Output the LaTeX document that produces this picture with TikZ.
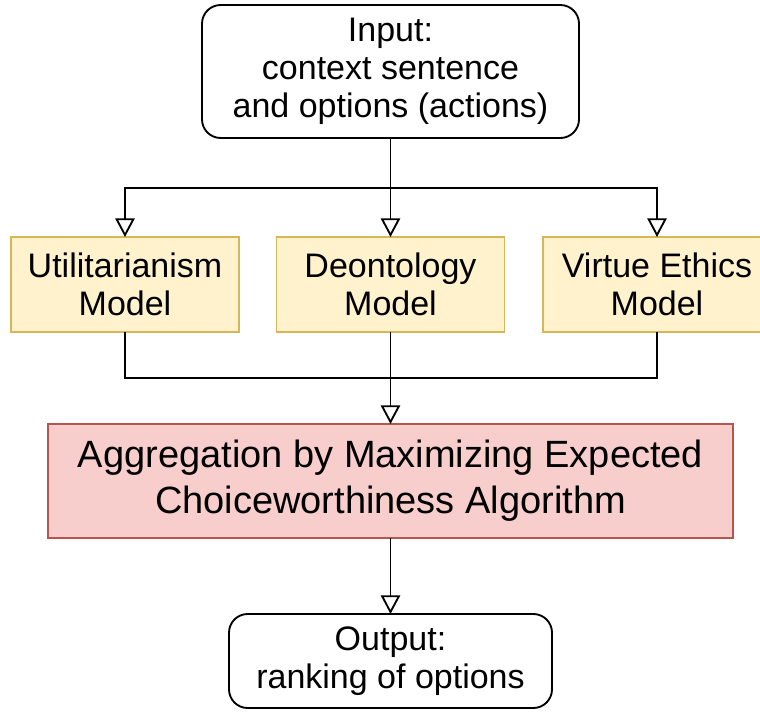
\documentclass[tikz,border=0pt]{standalone}
\usepackage{fontspec}
\setmainfont{Liberation Sans}
\usetikzlibrary{arrows.meta}

\definecolor{modelfill}{HTML}{FFF2CC}
\definecolor{modeldraw}{HTML}{D6B656}
\definecolor{aggfill}{HTML}{F8CECC}
\definecolor{aggdraw}{HTML}{B85450}

\tikzset{
    box/.style={align=center, inner sep=0pt, outer sep=0pt,
        font=\fontsize{25.5}{28.5}\selectfont},
    terminal/.style={box, draw, line width=1.4pt, rounded corners=14pt},
    model/.style={box, draw=modeldraw, fill=modelfill, line width=1.3pt,
        minimum width=171pt, minimum height=71.25pt},
    arr/.style={-{Triangle[open, length=14pt, width=14.5pt]}},
}

\begin{document}
\begin{tikzpicture}[x=0.75pt, y=-0.75pt, line width=1.4pt]

    \clip (0, 0) rectangle (760, 711);

    % Declare the boxes
    \node[terminal, minimum width=282.75pt, minimum height=99.75pt] at (390.5, 71.5) (In) {Input:\\context sentence\\and options (actions)};

    \node[model] at (125, 284.5) (Util) {Utilitarianism\\Model};
    \node[model] at (390.5, 284.5) (Deon) {Deontology\\Model};
    \node[model] at (657, 284.5) (Virt) {Virtue Ethics\\Model};

    \node[box, draw=aggdraw, fill=aggfill, line width=1.3pt, minimum width=513.75pt, minimum height=85.5pt,
        font=\fontsize{28.5}{34.5}\selectfont] at (390.5, 481) (Agg) {Aggregation by Maximizing Expected\\Choiceworthiness Algorithm};

    \node[terminal, minimum width=242.25pt, minimum height=70.5pt] at (390.5, 661) (Out) {Output:\\ranking of options};

    % Declare split and join points
    \coordinate (Split) at (390.5, 188);
    \coordinate (Join) at (390.5, 378);

    % Declare edges
    \draw[arr] (In) -- (Deon);
    \draw[arr] (Split) -| (Util.north);
    \draw[arr] (Split) -| (Virt.north);

    \draw (Util.south) |- (Join);
    \draw (Virt.south) |- (Join);
    \draw[arr] (Deon) -- (Agg);

    \draw[arr] (Agg) -- (Out);

\end{tikzpicture}
\end{document}
